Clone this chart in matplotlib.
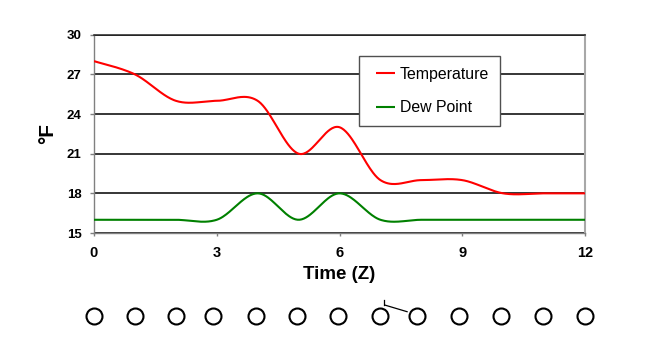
import numpy as np
import matplotlib
matplotlib.use("Agg")
import matplotlib.pyplot as plt
import matplotlib.transforms as mtransforms
from matplotlib.lines import Line2D
from matplotlib.patches import Rectangle

plt.rcParams['font.family'] = ['Liberation Sans', 'DejaVu Sans']

# ---- data ----
hours = [0, 1, 2, 3, 4, 5, 6, 7, 8, 9, 10, 11, 12]
temperature = [28, 27, 25, 25, 25, 21, 23, 19, 19, 19, 18, 18, 18]
dew_point = [16, 16, 16, 16, 18, 16, 18, 16, 16, 16, 16, 16, 16]
x_ticks = [0, 3, 6, 9, 12]
y_ticks = [15, 18, 21, 24, 27, 30]
station_hours = [0, 1, 2, 2.9, 3.95, 4.95, 5.97, 7, 7.9, 8.93, 9.95, 10.97, 12]
barb_station = 7


def excel_smooth(x, y, n=40):
    """Excel-style smoothed line: cubic Bezier with control points at 1/6 of neighbour chord."""
    P = np.column_stack([x, y]).astype(float)
    m = len(P)
    out = []
    for i in range(m - 1):
        p0 = P[i]
        p3 = P[i + 1]
        pm = P[i - 1] if i > 0 else P[i]
        pp = P[i + 2] if i + 2 < m else P[i + 1]
        c1 = p0 + (p3 - pm) / 6.0
        c2 = p3 - (pp - p0) / 6.0
        t = np.linspace(0, 1, n)[:, None]
        seg = ((1 - t) ** 3) * p0 + 3 * ((1 - t) ** 2) * t * c1 + 3 * (1 - t) * t ** 2 * c2 + t ** 3 * p3
        if i > 0:
            seg = seg[1:]
        out.append(seg)
    out = np.vstack(out)
    return out[:, 0], out[:, 1]


W, H = 649, 354
fig = plt.figure(figsize=(W / 100, H / 100), dpi=100)
fig.patch.set_facecolor('white')

L, R, T, B = 94, 585, 34.7, 233
ax = fig.add_axes([L / W, 1 - B / H, (R - L) / W, (B - T) / H])

tx, ty = excel_smooth(hours, temperature)
dx, dy = excel_smooth(hours, dew_point)
ax.plot(tx, ty, color='#ff0000', lw=1.5, label='Temperature', zorder=3, solid_capstyle='butt')
ax.plot(dx, dy, color='#008000', lw=1.5, label='Dew Point', zorder=3, solid_capstyle='butt')

ax.set_xlim(0, 12)
ax.set_ylim(15, 30)
ax.set_xticks(x_ticks)
ax.set_yticks(y_ticks)
ax.set_xticklabels([str(v) for v in x_ticks], fontsize=10.5, fontweight='bold')
ax.set_yticklabels([str(v) for v in y_ticks], fontsize=9.5, fontweight='bold')
ax.yaxis.grid(True, color='black', lw=1.1)
ax.set_axisbelow(True)

for s in ['left', 'bottom']:
    ax.spines[s].set_color('#808080')
    ax.spines[s].set_linewidth(1.0)
ax.spines['right'].set_color('#a8a8a8')
ax.spines['right'].set_linewidth(1.5)
ax.spines['top'].set_color('#202020')
ax.spines['top'].set_linewidth(1.1)

ax.tick_params(axis='y', direction='out', length=3, width=1, color='#808080', pad=6)
ax.tick_params(axis='x', direction='out', length=2.5, width=1, color='#808080', pad=7)

ax.set_xlabel('Time (Z)', fontsize=13.5, fontweight='bold', labelpad=4)
ax.set_ylabel('°F', fontsize=15, fontweight='bold', labelpad=7)

# legend: frameless entries + exact box
box = Rectangle((359 / W, 1 - 126 / H), (500 - 359) / W, (126 - 56) / H,
                transform=fig.transFigure, facecolor='white',
                edgecolor='#505050', lw=1.0, zorder=4, clip_on=False)
ax.add_artist(box)
leg = ax.legend(loc='upper left', bbox_to_anchor=(376 / W, 1 - 66.5 / H),
                bbox_transform=fig.transFigure, borderaxespad=0, borderpad=0,
                prop={'size': 11.4}, frameon=False, labelspacing=1.2,
                handlelength=1.2, handletextpad=0.3)
leg.set_zorder(5)

# ---- station circles ----
sax = fig.add_axes([L / W, 1 - 336 / H, (R - L) / W, 40 / H])
sax.set_xlim(0, 12)
sax.set_ylim(-1, 1)
sax.axis('off')
sy = [0] * len(station_hours)
sax.plot(station_hours, sy, 'o', ms=11.5, mfc='white', mec='black', mew=1.5, clip_on=False, ls='none')


# wind barb on one station (offsets in points from the station centre)
def pt_line(xs, ys):
    cx, cy = sax.transData.transform((station_hours[barb_station], 0))
    tr = mtransforms.Affine2D().scale(fig.dpi / 72.0).translate(cx, cy)
    ln = Line2D(xs, ys, color='black', lw=0.9, transform=tr, clip_on=False)
    fig.add_artist(ln)


pt_line([3.1, 19.2], [7.9, 3.1])
pt_line([2.9, 2.9], [7.9, 11.5])

fig.savefig('out.png', dpi=100, facecolor='white')
